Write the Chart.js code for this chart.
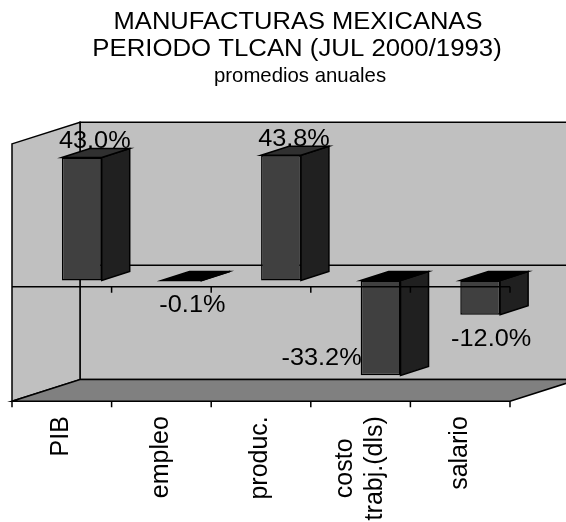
<!DOCTYPE html>
<html>
<head>
<meta charset="utf-8">
<title>Manufacturas mexicanas</title>
<script src="https://cdn.jsdelivr.net/npm/chart.js@4.4.1/dist/chart.umd.min.js"></script>
<style>
  html, body { margin: 0; padding: 0; background: #fff; }
  #chart { display: block; }
</style>
</head>
<body>
<canvas id="chart" width="566" height="522"></canvas>
<script>
const titleLines = ["MANUFACTURAS MEXICANAS", "PERIODO TLCAN (JUL 2000/1993)", "promedios anuales"];
const categories = ["PIB", "empleo", "produc.", ["costo", "trabj.(dls)"], "salario"];
const values = [43.0, -0.1, 43.8, -33.2, -12.0];
const axisMin = -40;
const axisMax = 50;

const FONT = '"Liberation Sans", Arial, sans-serif';
const wallColor = "#c0c0c0";
const floorColor = "#808080";
const depth = {x: 68, y: 21.6};     // full depth of the box
const barFront = {x: 20, y: 6.4};   // bars stand this far behind the front plane
const barDepth = {x: 28, y: 9};

function poly(ctx, pts, fill) {
    ctx.beginPath();
    ctx.moveTo(pts[0][0], pts[0][1]);
    for(let i = 1; i < pts.length; i++)
        ctx.lineTo(pts[i][0], pts[i][1]);
    ctx.closePath();
    if(fill) {
        ctx.fillStyle = fill;
        ctx.fill();
    }
    ctx.stroke();
}

// text drawn a bit wider than the font, like the old worksheet charts
function wideText(ctx, text, x, y, size, sx, align) {
    ctx.save();
    ctx.translate(x, y);
    ctx.scale(sx, 1);
    ctx.font = size + "px " + FONT;
    ctx.fillStyle = "#000";
    ctx.textAlign = align;
    ctx.textBaseline = "alphabetic";
    ctx.fillText(text, 0, 0);
    ctx.restore();
}

function frontPlane(chart) {
    const a = chart.chartArea;
    return {
        left: a.left - barFront.x,
        right: a.right - barFront.x,
        top: a.top + barFront.y,
        bottom: a.bottom + barFront.y,
    };
}

const box3d = {
    id: "box3d",
    beforeDraw(chart) {
        const ctx = chart.ctx;
        wideText(ctx, titleLines[0], 298, 29, 23, 1.11, "center");
        wideText(ctx, titleLines[1], 297, 56, 23, 1.12, "center");
        wideText(ctx, titleLines[2], 300, 82, 21, 0.97, "center");
    },
    beforeDatasetsDraw(chart) {
        const {ctx, scales: {y}} = chart;
        const f = frontPlane(chart);
        const bl = f.left + depth.x, br = f.right + depth.x;
        const bt = f.top - depth.y, bb = f.bottom - depth.y;

        ctx.save();
        ctx.strokeStyle = "#000";
        ctx.lineWidth = 1.5;
        poly(ctx, [[bl, bt], [br, bt], [br, bb], [bl, bb]], wallColor);
        poly(ctx, [[f.left, f.top], [bl, bt], [bl, bb], [f.left, f.bottom]], wallColor);
        poly(ctx, [[f.left, f.bottom], [bl, bb], [br, bb], [f.right, f.bottom]], floorColor);

        // zero line on the back wall
        let zBack = y.getPixelForValue(0) + barFront.y - depth.y;
        ctx.beginPath();
        ctx.moveTo(bl, zBack);
        ctx.lineTo(br, zBack);
        ctx.stroke();
        ctx.restore();
    },
    afterDatasetsDraw(chart) {
        const {ctx, chartArea: a, scales: {x, y}} = chart;
        const f = frontPlane(chart);
        const bars = chart.getDatasetMeta(0).data;

        ctx.save();
        ctx.strokeStyle = "#000";
        ctx.lineWidth = 1.5;

        // side and top faces of every bar
        bars.forEach((bar, i) => {
            const p = bar.getProps(["x", "y", "base", "width"], true);
            const l = p.x - p.width / 2, r = p.x + p.width / 2;
            const t = Math.min(p.y, p.base), b = Math.max(p.y, p.base);
            poly(ctx, [[r, t], [r + barDepth.x, t - barDepth.y], [r + barDepth.x, b - barDepth.y], [r, b]], "#202020");
            poly(ctx, [[l, t], [l + barDepth.x, t - barDepth.y], [r + barDepth.x, t - barDepth.y], [r, t]],
                values[i] >= 0 ? "#303030" : "#000000");
        });

        // category axis across the front at zero, plus the floor ticks
        const catW = (a.right - a.left) / categories.length;
        const zFront = y.getPixelForValue(0) + barFront.y;
        ctx.beginPath();
        ctx.moveTo(f.left, zFront);
        ctx.lineTo(f.right, zFront);
        for(let i = 0; i < categories.length; i++) {
            const edge = x.getPixelForTick(i) + catW / 2 - barFront.x;
            ctx.moveTo(edge, zFront);
            ctx.lineTo(edge, zFront + 6);
        }
        for(let i = 0; i <= categories.length; i++) {
            const edge = x.getPixelForTick(0) - catW / 2 + i * catW - barFront.x;
            ctx.moveTo(edge, f.bottom);
            ctx.lineTo(edge, f.bottom + 6);
        }
        ctx.stroke();
        ctx.restore();

        // value labels
        bars.forEach((bar, i) => {
            const p = bar.getProps(["x", "y", "base", "width"], true);
            const text = values[i].toFixed(1) + "%";
            if(values[i] >= 0) {
                wideText(ctx, text, p.x + 13, p.y - 9.5, 23, 1.1, "center");
            }
            else if(p.y + 31 > a.bottom) {
                // no room under the bar, so it goes to its left
                wideText(ctx, text, p.x - p.width / 2 + 1, p.y - 10, 23, 1.1, "right");
            }
            else {
                wideText(ctx, text, p.x + 11, p.y + 31, 23, 1.1, "center");
            }
        });

        // rotated category names under the floor, reading upwards
        ctx.save();
        ctx.fillStyle = "#000";
        ctx.font = "25px " + FONT;
        ctx.textAlign = "center";
        ctx.textBaseline = "alphabetic";
        const lineH = 29.5;
        categories.forEach((label, i) => {
            const lines = Array.isArray(label) ? label : [label];
            const longest = Math.max(...lines.map(s => ctx.measureText(s).width));
            const cx = x.getPixelForTick(i) - barFront.x;
            ctx.save();
            ctx.translate(cx, f.bottom + 15);
            ctx.rotate(-Math.PI / 2);
            lines.forEach((s, k) => {
                const off = (k - (lines.length - 1) / 2) * lineH + 6.3;
                ctx.fillText(s, -longest / 2, off);
            });
            ctx.restore();
        });
        ctx.restore();
    },
};

new Chart(document.getElementById("chart"), {
    type: "bar",
    data: {
        labels: categories,
        datasets: [{
            data: values,
            backgroundColor: "#404040",
            borderColor: "#000000",
            borderWidth: 1.5,
            borderSkipped: false,
            categoryPercentage: 1.0,
            barPercentage: 0.4,
        }],
    },
    options: {
        responsive: false,
        animation: false,
        devicePixelRatio: 1,
        layout: {
            padding: {left: 32, right: 36, top: 137.5, bottom: 127.2},
        },
        scales: {
            x: {display: false},
            y: {display: false, min: axisMin, max: axisMax},
        },
        plugins: {
            legend: {display: false},
            tooltip: {enabled: false},
        },
    },
    plugins: [box3d],
});
</script>
</body>
</html>
